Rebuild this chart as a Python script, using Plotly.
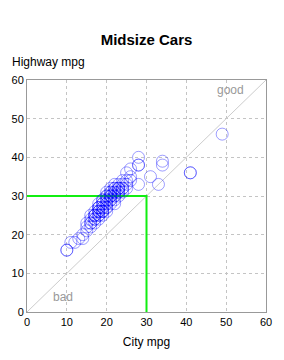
import plotly.graph_objects as go

city = [10, 10, 11, 12, 13, 14, 14, 15, 15, 16,
        15, 16, 16, 16, 17, 17, 17, 17, 17, 17,
        18, 18, 18, 18, 18, 18, 18, 19, 19, 19,
        19, 19, 19, 19, 20, 20, 20, 20, 20, 20,
        20, 21, 21, 21, 21, 21, 21, 21, 22, 22,
        22, 22, 22, 22, 23, 23, 23, 23, 23, 24,
        24, 24, 24, 25, 25, 25, 26, 26, 26, 25,
        28, 28, 28, 28, 31, 33, 34, 34, 41, 41,
        49, 18, 19, 20, 21, 22, 19, 20, 18, 17,
        16, 21, 22, 23, 24, 20, 19, 18, 22, 23]
highway = [16, 16, 18, 18, 19, 19, 20, 21, 22, 22,
           23, 23, 24, 25, 23, 24, 25, 26, 24, 25,
           24, 25, 26, 27, 25, 26, 28, 25, 26, 27,
           28, 26, 27, 29, 26, 27, 28, 29, 30, 28,
           31, 28, 29, 30, 31, 32, 29, 30, 28, 30,
           31, 32, 33, 31, 30, 31, 32, 33, 32, 31,
           33, 34, 32, 32, 34, 33, 35, 37, 34, 36,
           33, 38, 38, 40, 35, 33, 38, 39, 36, 36,
           46, 27, 28, 29, 30, 32, 26, 27, 26, 25,
           23, 31, 30, 31, 32, 30, 29, 27, 29, 32]

ref_line = [0, 60]
threshold = 30
ticks = [0, 10, 20, 30, 40, 50, 60]

fig = go.Figure()
fig.add_trace(go.Scatter(x=ref_line, y=ref_line, mode="lines",
                         line=dict(color="#cccccc", width=1), hoverinfo="skip"))
fig.add_trace(go.Scatter(x=[0, threshold, threshold], y=[threshold, threshold, 0], mode="lines",
                         line=dict(color="#11ee11", width=2), hoverinfo="skip"))
fig.add_trace(go.Scatter(x=city, y=highway, mode="markers",
                         marker=dict(symbol="circle-open", size=12,
                                     color="rgba(0,0,255,0.38)", line=dict(width=1))))

font = "Liberation Sans, Arial, sans-serif"
axis = dict(range=[0, 60], tickvals=ticks, showgrid=True, gridcolor="#c4c4c4",
            griddash="3px,3px", gridwidth=1, zeroline=False, showline=True,
            linecolor="#999999", linewidth=1, mirror=True, ticks="",
            tickfont=dict(size=11, color="black", family=font), fixedrange=True)

fig.update_layout(
    width=284, height=360,
    margin=dict(l=27, r=15, t=80, b=48),
    paper_bgcolor="white", plot_bgcolor="white",
    showlegend=False,
    font=dict(family=font, color="black"),
    title=dict(text="<b>Midsize Cars</b>", x=0.5, xref="paper", y=1 - 40 / 360,
               yanchor="middle", font=dict(size=15, family=font)),
    xaxis=dict(axis, title=dict(text="City mpg", font=dict(size=12), standoff=10)),
    yaxis=dict(axis),
)
fig.add_annotation(text="Highway mpg", xref="paper", yref="paper", x=-17 / 242, y=1 + 18 / 232,
                   xanchor="left", yanchor="middle", showarrow=False,
                   font=dict(size=12, family=font))
fig.add_annotation(text="good", x=51, y=57.5, showarrow=False,
                   font=dict(size=12, color="#999999", family=font))
fig.add_annotation(text="bad", x=9, y=4, showarrow=False,
                   font=dict(size=12, color="#999999", family=font))

fig.write_html("out.html")
